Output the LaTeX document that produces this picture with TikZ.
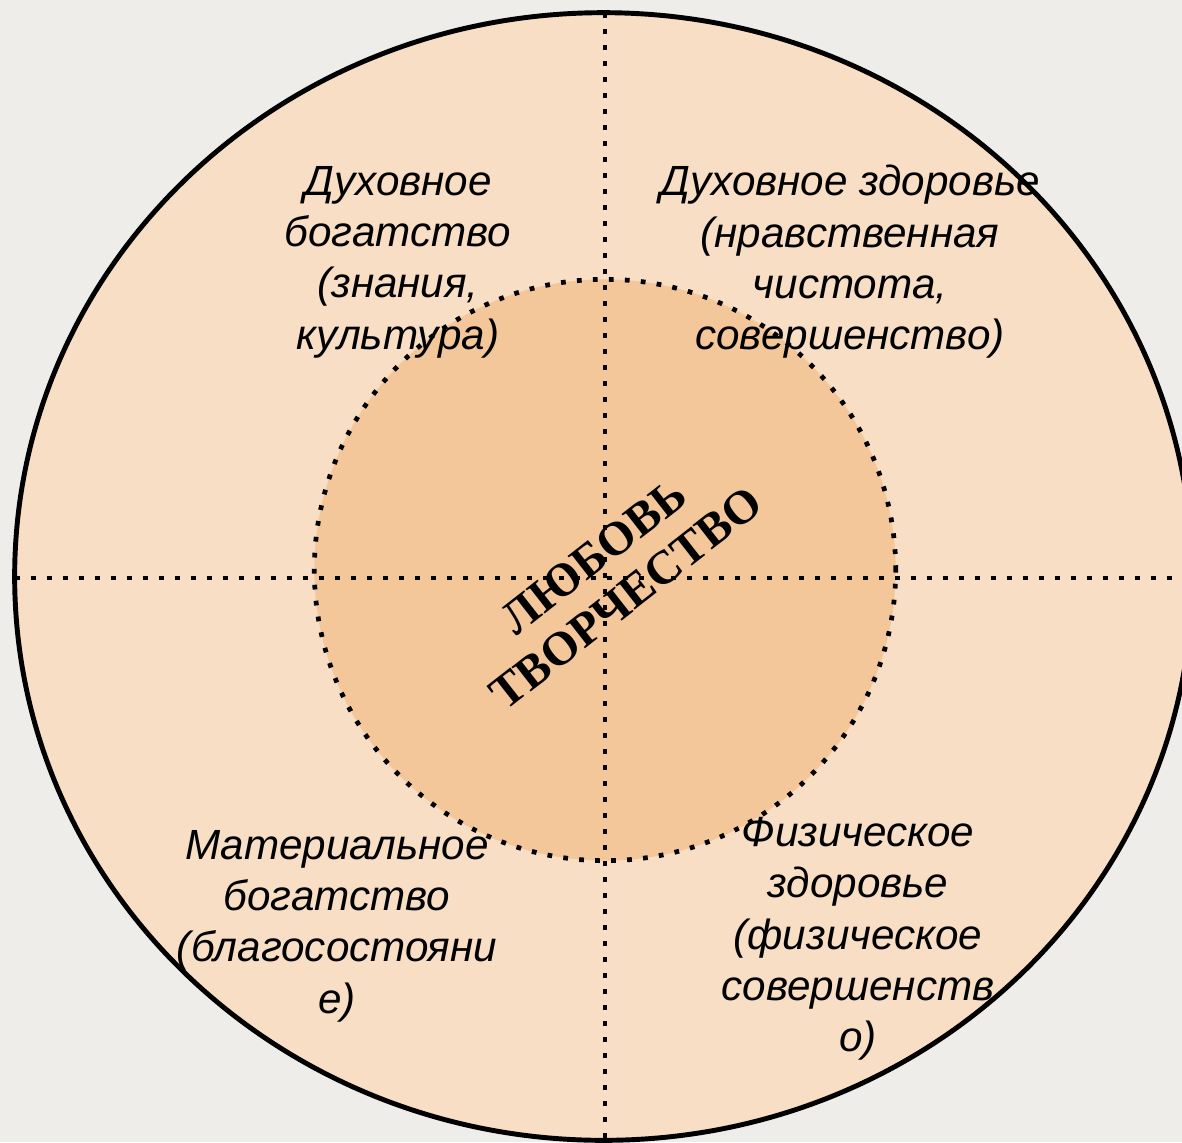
\documentclass[tikz,border=0pt]{standalone}
\usepackage{fontspec}
\setmainfont{Liberation Serif}
\newfontfamily\arialfont{Liberation Sans}
\definecolor{bggray}{HTML}{EFEDEA}
\definecolor{outerpeach}{HTML}{F8DEC4}
\definecolor{innerpeach}{HTML}{F3C799}
\tikzset{
  dotline/.style={line width=1.35pt,dash pattern=on 1.35pt off 3.2pt},
  sector/.style={align=center,font=\arialfont\itshape\fontsize{12}{14.6}\selectfont},
  core/.style={align=center,rotate=38,font=\bfseries\fontsize{13.5}{15}\selectfont}
}
\begin{document}
\begin{tikzpicture}[x=0.01cm,y=-0.01cm]

        \useasboundingbox (0,0) rectangle (1182,1142);
        \clip (0,0) rectangle (1182,1142);
        \fill[bggray] (0,0) rectangle (1182,1142);

        \coordinate (O) at (603.5,576.5);
        \coordinate (I) at (605,570);
        \fill[outerpeach] (O) ellipse [x radius=5.885cm,y radius=5.635cm];
        \fill[innerpeach] (I) circle [radius=2.905cm];
        \draw[dotline] (I) circle [radius=2.905cm];

        \coordinate (T) at (605,13);  \coordinate (B) at (605,1142);
        \coordinate (L) at (15,578);  \coordinate (R) at (1182,578);
        \draw[dotline] (T) -- (B);
        \draw[dotline] (L) -- (R);
        \draw[line width=1.4pt] (O) ellipse [x radius=5.885cm,y radius=5.635cm];

        \node[sector] (wealth) at (398,262) {Духовное\\богатство\\(знания,\\культура)};
        \node[sector] (spirit) at (850,262) {Духовное здоровье\\(нравственная\\чистота,\\совершенство)};
        \node[sector] (matter) at (337,926) {Материальное\\богатство\\(благосостояни\\е)};
        \node[sector] (body) at (858,939) {Физическое\\здоровье\\(физическое\\совершенств\\о)};

        \node[core] (love) at (610,577) {ЛЮБОВЬ\\ТВОРЧЕСТВО};

      \end{tikzpicture}
\end{document}
